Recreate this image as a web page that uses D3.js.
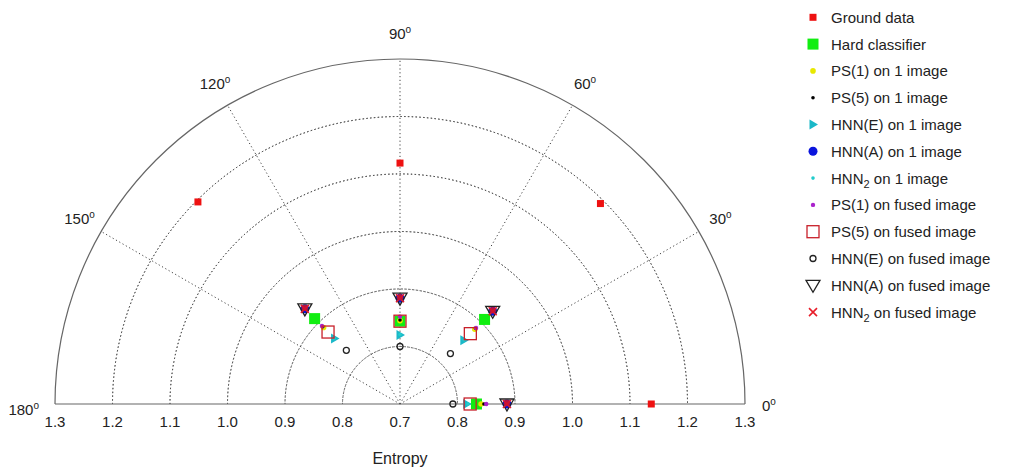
<!DOCTYPE html>
<html><head><meta charset="utf-8">
<script src="https://cdn.jsdelivr.net/npm/d3@7"></script>
<style>body{margin:0;background:#fff;} text{font-family:"Liberation Sans",Arial,sans-serif;fill:#222;}</style>
</head><body><svg id="c" width="1010" height="467"></svg>
<script>
// Angles (degrees) at which each series is sampled
const angles = [0, 45, 90, 135];
// Radial values (entropy) per series, in order of angles
const groundData   = [1.137, 1.193, 1.119, 1.197];
const hardClass    = [0.833, 0.908, 0.844, 0.910];
const ps1One       = [0.841, 0.884, 0.845, 0.888];
const ps5One       = [0.846, 0.886, 0.846, 0.890];
const hnnEOne      = [0.816, 0.857, 0.820, 0.861];
const hnnAOne      = [0.886, 0.928, 0.884, 0.934];
const hnn2One      = [0.818, 0.858, 0.821, 0.862];
const ps1Fused     = [0.850, 0.887, 0.852, 0.892];
const ps5Fused     = [0.822, 0.873, 0.844, 0.877];
const hnnEFused    = [0.792, 0.824, 0.800, 0.832];
const hnnAFused    = [0.886, 0.928, 0.884, 0.934];
const hnn2Fused    = [0.886, 0.928, 0.884, 0.934];
// Axis ticks
const radialTicks = [0.8, 0.9, 1.0, 1.1, 1.2];
const axisTicks = [1.3, 1.2, 1.1, 1.0, 0.9, 0.8, 0.7, 0.8, 0.9, 1.0, 1.1, 1.2, 1.3];
const angleTicks = [0, 30, 60, 90, 120, 150, 180];
const seriesNames = ["Ground data","Hard classifier","PS(1) on 1 image","PS(5) on 1 image","HNN(E) on 1 image","HNN(A) on 1 image","HNN|2| on 1 image","PS(1) on fused image","PS(5) on fused image","HNN(E) on fused image","HNN(A) on fused image","HNN|2| on fused image"];

const svg = d3.select("#c");
const cx = 400, cy = 404, R = 345;
const r = d3.scaleLinear().domain([0.7, 1.3]).range([0, R]);
const toXY = (deg, v) => { const a = deg * Math.PI / 180; return [cx + r(v) * Math.cos(a), cy - r(v) * Math.sin(a)]; };

const g = svg.append("g");
const gridStyle = s => s.attr("fill", "none").attr("stroke", "#444").attr("stroke-width", 1).attr("stroke-dasharray", "1.2,2.6");
radialTicks.forEach(t => {
  g.append("path").attr("transform", `translate(${cx},${cy})`)
    .attr("d", d3.arc()({innerRadius: r(t), outerRadius: r(t), startAngle: -Math.PI/2, endAngle: Math.PI/2}))
    .call(gridStyle);
});
[30, 60, 90, 120, 150].forEach(a => {
  const [x, y] = toXY(a, 1.3);
  g.append("line").attr("x1", cx).attr("y1", cy).attr("x2", x).attr("y2", y).call(gridStyle);
});
g.append("path").attr("transform", `translate(${cx},${cy})`)
  .attr("d", d3.arc()({innerRadius: R, outerRadius: R, startAngle: -Math.PI/2, endAngle: Math.PI/2}))
  .attr("fill", "none").attr("stroke", "#666").attr("stroke-width", 1.2);
g.append("line").attr("x1", cx - R).attr("x2", cx + R).attr("y1", cy).attr("y2", cy)
  .attr("stroke", "#666").attr("stroke-width", 1.2);

const xs = d3.scaleLinear().domain([-0.6, 0.6]).range([cx - R, cx + R]);
axisTicks.forEach((t, i) => {
  const off = (i < 6 ? -1 : 1) * (t - 0.7);
  g.append("text").attr("x", xs(off)).attr("y", 427).attr("text-anchor", "middle")
    .attr("font-size", 15).text(t.toFixed(1));
});
g.append("text").attr("x", cx).attr("y", 464).attr("text-anchor", "middle").attr("font-size", 16).text("Entropy");

angleTicks.forEach(a => {
  let rr = R + 25, [x, y] = [cx + rr * Math.cos(a*Math.PI/180), cy - rr * Math.sin(a*Math.PI/180) + 5];
  let anchor = "middle";
  if (a === 0) { x = cx + R + 17; y = cy + 7; anchor = "start"; }
  if (a === 180) { x = cx - R - 16; y = cy + 11; anchor = "end"; }
  const t = g.append("text").attr("x", x).attr("y", y).attr("text-anchor", anchor).attr("font-size", 15);
  t.append("tspan").text(a);
  t.append("tspan").attr("font-size", 10).attr("dy", -6).text("o");
});

function marker(sel, type, x, y) {
  switch (type) {
    case "ground": sel.append("rect").attr("x", x-3.5).attr("y", y-3.5).attr("width", 7).attr("height", 7).attr("fill", "#ee1111"); break;
    case "hard": sel.append("rect").attr("x", x-5.5).attr("y", y-5.5).attr("width", 11).attr("height", 11).attr("fill", "#11ee11"); break;
    case "ps1": sel.append("circle").attr("cx", x).attr("cy", y).attr("r", 2.8).attr("fill", "#e8e800"); break;
    case "ps5": sel.append("circle").attr("cx", x).attr("cy", y).attr("r", 1.8).attr("fill", "#000"); break;
    case "hnnE": sel.append("path").attr("d", `M${x-3.5},${y-5}L${x+5},${y}L${x-3.5},${y+5}Z`).attr("fill", "#1ab8c8"); break;
    case "hnnA": sel.append("circle").attr("cx", x).attr("cy", y).attr("r", 4.5).attr("fill", "#0a14dd"); break;
    case "hnn2": sel.append("circle").attr("cx", x).attr("cy", y).attr("r", 1.8).attr("fill", "#22cccc"); break;
    case "ps1f": sel.append("circle").attr("cx", x).attr("cy", y).attr("r", 2.2).attr("fill", "#aa22cc"); break;
    case "ps5f": sel.append("rect").attr("x", x-6).attr("y", y-6).attr("width", 12).attr("height", 12).attr("fill", "none").attr("stroke", "#c8202a").attr("stroke-width", 1.3); break;
    case "hnnEf": sel.append("circle").attr("cx", x).attr("cy", y).attr("r", 3).attr("fill", "none").attr("stroke", "#222").attr("stroke-width", 1.3); break;
    case "hnnAf": sel.append("path").attr("d", `M${x-7},${y-5}L${x+7},${y-5}L${x},${y+7}Z`).attr("fill", "none").attr("stroke", "#222").attr("stroke-width", 1.3); break;
    case "hnn2f": sel.append("path").attr("d", `M${x-4},${y-4}L${x+4},${y+4}M${x-4},${y+4}L${x+4},${y-4}`).attr("stroke", "#e81e2a").attr("stroke-width", 1.6); break;
  }
}
const seriesData = [groundData, hardClass, ps1One, ps5One, hnnEOne, hnnAOne, hnn2One, ps1Fused, ps5Fused, hnnEFused, hnnAFused, hnn2Fused];
const types = ["ground","hard","ps1","ps5","hnnE","hnnA","hnn2","ps1f","ps5f","hnnEf","hnnAf","hnn2f"];
const mg = svg.append("g");
seriesData.forEach((vals, si) => {
  vals.forEach((v, i) => {
    const [x, y] = toXY(angles[i], v);
    marker(mg, types[si], x, y);
    if (types[si] === "hnn2f") {
      mg.append("circle").attr("cx", x).attr("cy", y - 1).attr("r", 3.2).attr("fill", "#d0102a").attr("opacity", 0.85);
    }
  });
});

const lg = svg.append("g");
seriesNames.forEach((name, i) => {
  const y = 17.3 + i * 26.8;
  marker(lg, types[i], 813, y);
  const t = lg.append("text").attr("x", 831).attr("y", y + 5.5).attr("font-size", 15);
  const parts = name.split("|");
  if (parts.length === 1) t.text(name);
  else {
    t.append("tspan").text(parts[0]);
    t.append("tspan").attr("font-size", 11).attr("dy", 4).text(parts[1]);
    t.append("tspan").attr("dy", -4).text(parts[2]);
  }
});
</script></body></html>
